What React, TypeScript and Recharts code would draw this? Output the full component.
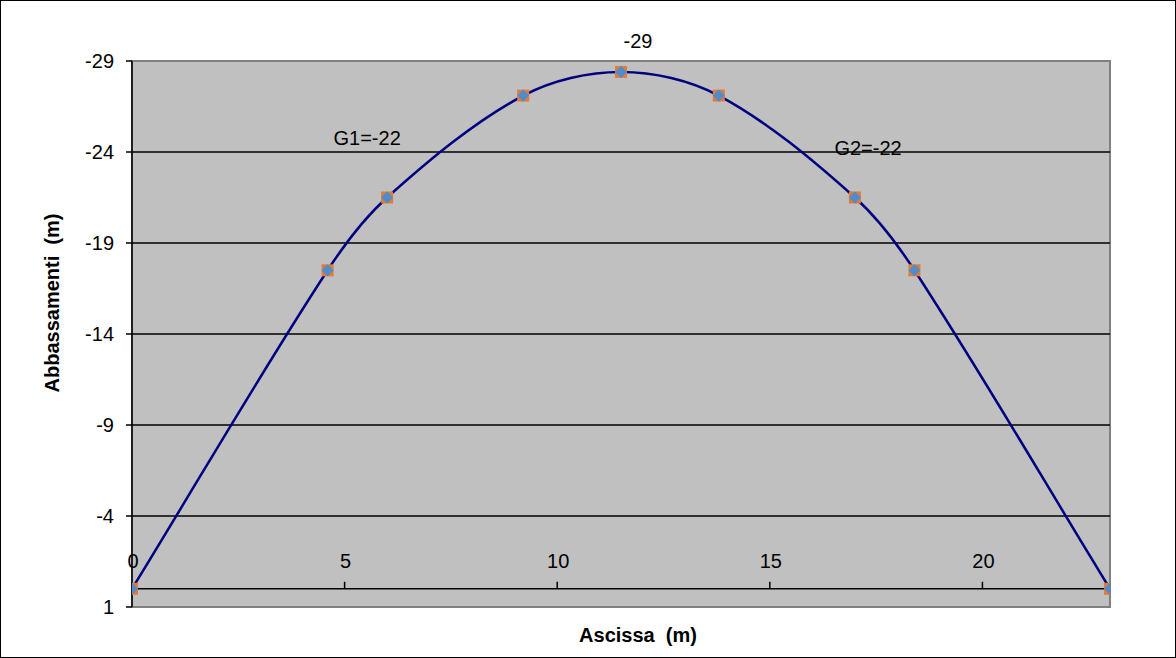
import React from 'react';
import {
  ComposedChart,
  Line,
  XAxis,
  YAxis,
  CartesianGrid,
  ReferenceLine,
  ReferenceDot,
  ReferenceArea,
} from 'recharts';

const xValues = [0, 4.6, 6, 9.2, 11.5, 13.8, 17, 18.4, 23];
const yValues = [0, -17.5, -21.5, -27.1, -28.4, -27.1, -21.5, -17.5, 0];
const yTicks = [-29, -24, -19, -14, -9, -4, 1];
const xTicks = [0, 5, 10, 15, 20];
const annotations = [
  { x: 11.9, y: -30.1, text: '-29' },
  { x: 5.53, y: -24.75, text: 'G1=-22' },
  { x: 17.31, y: -24.2, text: 'G2=-22' },
];

const data = xValues.map((x, i) => ({ x, y: yValues[i] }));
const FONT = '"Liberation Sans", Arial, sans-serif';

// Excel-like smoothed line (chord-length scaled Catmull-Rom Bezier)
const excelSmooth = (context: any) => {
  let pts: number[][] = [];
  const dist = (a: number[], b: number[]) => Math.hypot(b[0] - a[0], b[1] - a[1]);
  return {
    areaStart() {},
    areaEnd() {},
    lineStart() {
      pts = [];
    },
    point(x: number, y: number) {
      pts.push([+x, +y]);
    },
    lineEnd() {
      if (!pts.length) return;
      context.moveTo(pts[0][0], pts[0][1]);
      for (let i = 0; i < pts.length - 1; i++) {
        const p0 = pts[Math.max(i - 1, 0)];
        const p1 = pts[i];
        const p2 = pts[i + 1];
        const p3 = pts[Math.min(i + 2, pts.length - 1)];
        const d01 = dist(p0, p1);
        const d12 = dist(p1, p2);
        const d23 = dist(p2, p3);
        const k1 = d12 / (3 * (d01 + d12 || 1));
        const k2 = d12 / (3 * (d12 + d23 || 1));
        context.bezierCurveTo(
          p1[0] + (p2[0] - p0[0]) * k1,
          p1[1] + (p2[1] - p0[1]) * k1,
          p2[0] - (p3[0] - p1[0]) * k2,
          p2[1] - (p3[1] - p1[1]) * k2,
          p2[0],
          p2[1]
        );
      }
    },
  };
};

const Marker = (props: any) => {
  const { cx, cy } = props;
  if (cx == null || cy == null) return null;
  return (
    <g>
      <rect x={cx - 6} y={cy - 6} width={12} height={12} fill="#E07B39" />
      <polygon
        points={`${cx},${cy - 6} ${cx + 6},${cy} ${cx},${cy + 6} ${cx - 6},${cy}`}
        fill="#4F8CC9"
      />
    </g>
  );
};

export default function App() {
  return (
    <div style={{ position: 'absolute', left: 0, top: 0, width: 1176, height: 658, background: '#fff' }}>
      <ComposedChart
        width={1176}
        height={658}
        data={data}
        margin={{ top: 61, right: 66, bottom: 0, left: 0 }}
        style={{ fontFamily: FONT }}
      >
        <CartesianGrid fill="#C0C0C0" horizontal={false} vertical={false} />
        {yTicks.slice(1, -1).map((t) => (
          <ReferenceLine key={'g' + t} y={t} stroke="#000" strokeWidth={1.5} />
        ))}
        <ReferenceArea
          x1={0}
          x2={23}
          y1={-29}
          y2={1}
          fill="none"
          stroke="#808080"
          strokeWidth={2}
          ifOverflow="visible"
        />
        <ReferenceLine y={0} stroke="#000" strokeWidth={1.5} />
        <XAxis
          type="number"
          dataKey="x"
          domain={[0, 23]}
          ticks={xTicks}
          tick={false}
          tickLine={false}
          axisLine={false}
          height={51}
          allowDataOverflow
          label={{
            content: (p: any) => {
              const vb = p.viewBox || {};
              return (
                <text
                  x={vb.x + vb.width / 2 + 17}
                  y={642}
                  textAnchor="middle"
                  fontSize={20}
                  fontWeight="bold"
                  fill="#000"
                  fontFamily={FONT}
                >
                  {'Ascissa\u00a0\u00a0(m)'}
                </text>
              );
            },
          }}
        />
        <YAxis
          type="number"
          domain={[-29, 1]}
          ticks={yTicks}
          reversed
          allowDataOverflow
          interval={0}
          width={132}
          tick={{ fill: '#000', fontSize: 20, fontFamily: FONT }}
          tickLine={{ stroke: '#000', strokeWidth: 1.5 }}
          tickSize={6}
          tickMargin={12}
          axisLine={{ stroke: '#000', strokeWidth: 1.5 }}
          label={{
            content: (p: any) => {
              const vb = p.viewBox || {};
              const cx = 52;
              const cy = vb.y + vb.height / 2 - 31;
              return (
                <text
                  x={cx}
                  y={cy}
                  transform={`rotate(-90 ${cx} ${cy})`}
                  textAnchor="middle"
                  dominantBaseline="central"
                  fontSize={20}
                  fontWeight="bold"
                  fill="#000"
                  fontFamily={FONT}
                >
                  {'Abbassamenti\u00a0\u00a0(m)'}
                </text>
              );
            },
          }}
        />
        {xTicks.map((t) => (
          <ReferenceDot
            key={'xt' + t}
            x={t}
            y={0}
            ifOverflow="visible"
            shape={(p: any) => (
              <g>
                {t !== 0 && (
                  <line x1={p.cx} y1={p.cy} x2={p.cx} y2={p.cy - 7} stroke="#000" strokeWidth={1.5} />
                )}
                <text x={p.cx + 1} y={p.cy - 21} textAnchor="middle" fontSize={20} fill="#000" fontFamily={FONT}>
                  {t}
                </text>
              </g>
            )}
          />
        ))}
        {annotations.map((a) => (
          <ReferenceDot
            key={a.text}
            x={a.x}
            y={a.y}
            ifOverflow="visible"
            shape={(p: any) => (
              <text x={p.cx} y={p.cy + 7} textAnchor="middle" fontSize={20} fill="#000" fontFamily={FONT}>
                {a.text}
              </text>
            )}
          />
        ))}
        <Line
          type={excelSmooth as any}
          dataKey="y"
          stroke="#000080"
          strokeWidth={2.5}
          dot={(p: any) => <Marker key={'d' + p.index} cx={p.cx} cy={p.cy} />}
          activeDot={false}
          isAnimationActive={false}
        />
      </ComposedChart>
      <div
        style={{
          position: 'absolute',
          left: 0,
          top: 0,
          width: 1176,
          height: 658,
          border: '1px solid #000',
          boxSizing: 'border-box',
          pointerEvents: 'none',
        }}
      />
    </div>
  );
}
